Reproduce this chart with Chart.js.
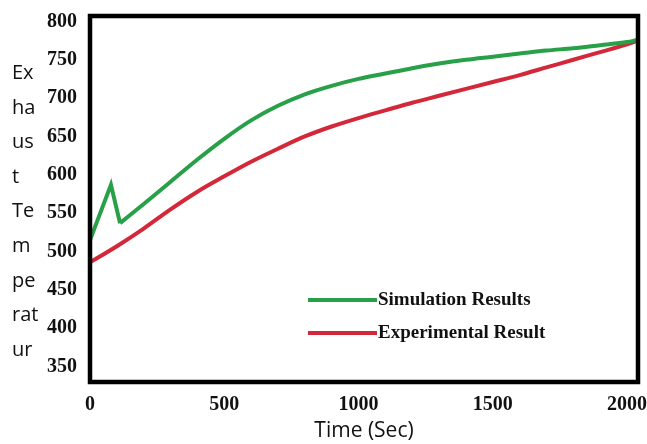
<!DOCTYPE html>
<html>
<head>
<meta charset="utf-8">
<script src="https://cdn.jsdelivr.net/npm/chart.js@4/dist/chart.umd.min.js"></script>
<style>
  html, body { margin: 0; padding: 0; background: #fff; }
  #wrap { position: relative; width: 647px; height: 444px; }
  #yTitle {
    position: absolute; left: 12px; top: 55px; height: 302px; width: 40px;
    overflow: hidden; font-family: "Open Sans", sans-serif; font-size: 20px;
    line-height: 34.6px; color: #111;
  }
</style>
</head>
<body>
<div id="wrap">
  <canvas id="chart" width="647" height="444"></canvas>
  <div id="yTitle">Ex<br>ha<br>us<br>t<br>Te<br>m<br>pe<br>rat<br>ur<br>e</div>
</div>
<script>
// Exhaust temperature vs time
const simTime = [0, 78, 112, 200, 300, 400, 500, 600, 700, 800, 900, 1000, 1100, 1200, 1300, 1400, 1500, 1600, 1700, 1800, 1900, 2000, 2040];
const simTemp = [515, 587, 537, 562, 591, 620, 647, 671, 690, 705, 716, 725, 732, 739, 745, 750, 754, 758, 762, 765, 769, 773, 776];

const expTime = [0, 100, 200, 300, 400, 500, 600, 700, 800, 900, 1000, 1100, 1200, 1300, 1400, 1500, 1600, 1700, 1800, 1900, 2000, 2040];
const expTemp = [486, 507, 530, 555, 578, 598, 617, 634, 650, 663, 674, 684, 694, 703, 712, 721, 730, 740, 750, 760, 770, 775];

const xTicks = [0, 500, 1000, 1500, 2000];
const yTicks = [350, 400, 450, 500, 550, 600, 650, 700, 750, 800];

const GREEN = "#27a048";
const RED = "#d3283a";
const SPIKE_END = 2; // index of the dip after the start-up spike

function pairs(xs, ys) {
  return xs.map((x, i) => ({ x: x, y: ys[i] }));
}

const simPts = pairs(simTime, simTemp);

// black box round the plot + legend drawn inside it
const framePlugin = {
  id: "frame",
  afterDatasetsDraw(chart) {
    const { ctx, chartArea: a } = chart;
    ctx.save();
    ctx.strokeStyle = "#000";
    ctx.lineWidth = 4.5;
    ctx.strokeRect(a.left, a.top, a.right - a.left, a.bottom - a.top);

    // legend (skip the helper dataset with no label)
    const lx = a.left + 218, ly = a.top + 284, gap = 33;
    ctx.font = "bold 19px 'Liberation Serif', serif";
    ctx.textBaseline = "middle";
    chart.data.datasets.filter(ds => ds.label).forEach((ds, i) => {
      const y = ly + i * gap;
      ctx.strokeStyle = ds.borderColor;
      ctx.lineWidth = 4;
      ctx.beginPath();
      ctx.moveTo(lx, y);
      ctx.lineTo(lx + 69, y);
      ctx.stroke();
      ctx.fillStyle = "#111";
      ctx.fillText(ds.label, lx + 70, y);
    });
    ctx.restore();
  }
};

new Chart(document.getElementById("chart"), {
  type: "line",
  data: {
    datasets: [
      // sharp start-up spike: straight segments
      { label: "", data: simPts.slice(0, SPIKE_END + 1), borderColor: GREEN, borderWidth: 4, pointRadius: 0, tension: 0, borderJoinStyle: "miter" },
      { label: "Simulation Results", data: simPts.slice(SPIKE_END), borderColor: GREEN, borderWidth: 4, pointRadius: 0, cubicInterpolationMode: "monotone" },
      { label: "Experimental Result", data: pairs(expTime, expTemp), borderColor: RED, borderWidth: 4, pointRadius: 0, cubicInterpolationMode: "monotone" }
    ]
  },
  options: {
    responsive: false,
    animation: false,
    layout: { padding: { left: 0, right: 9, top: 16, bottom: 0 } },
    plugins: { legend: { display: false }, tooltip: { enabled: false } },
    scales: {
      x: {
        type: "linear",
        min: 0,
        max: 2041,
        grid: { display: false, drawTicks: false },
        border: { display: false },
        afterBuildTicks: s => { s.ticks = xTicks.map(v => ({ value: v })); },
        afterFit: s => { s.height = 62; s.paddingLeft = 0; s.paddingRight = 0; },
        ticks: {
          padding: 11,
          maxRotation: 0,
          color: "#111",
          callback: v => String(v),
          font: { family: "'Liberation Serif', serif", size: 20, weight: "bold" }
        },
        title: {
          display: true,
          text: "Time (Sec)",
          color: "#111",
          padding: { top: 0, bottom: 0 },
          font: { family: "'Open Sans', sans-serif", size: 21 }
        }
      },
      y: {
        min: 330,
        max: 807,
        grid: { display: false, drawTicks: false },
        border: { display: false },
        afterBuildTicks: s => { s.ticks = yTicks.map(v => ({ value: v })); },
        afterFit: s => { s.width = 90; s.paddingTop = 0; s.paddingBottom = 0; },
        ticks: {
          padding: 13,
          color: "#111",
          font: { family: "'Liberation Serif', serif", size: 20, weight: "bold" }
        }
      }
    }
  },
  plugins: [framePlugin]
});
</script>
</body>
</html>
